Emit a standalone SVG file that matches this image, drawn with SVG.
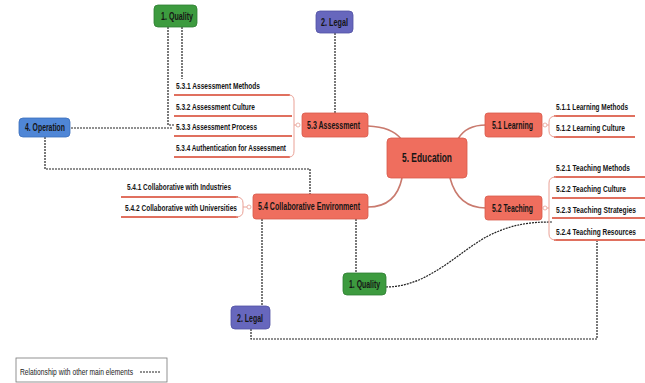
<svg xmlns="http://www.w3.org/2000/svg" width="645" height="383" viewBox="0 0 645 383">
<style>
.bx{stroke-width:0.8}
.sal{fill:#ef6e5e;stroke:#d85a4c}
.grn{fill:#3d9b3f;stroke:#2f7f32}
.pur{fill:#6767bd;stroke:#5252a3}
.blu{fill:#4f86d6;stroke:#3b6fbc}
.t{font-family:"Liberation Sans Narrow","Liberation Sans",Arial,sans-serif;font-weight:bold;fill:#151515}
.tb{font-size:10px}
.tl{font-size:9.2px}
.tm{font-size:13px}
.ul{stroke:#e0705f;stroke-width:1.8;fill:none}
.br{stroke:#eaa196;stroke-width:1;fill:none}
.dot{fill:#fff;stroke:#e6a094;stroke-width:0.8}
.main{stroke:#c97a6e;stroke-width:1.6;fill:none}
.dash{stroke:#222;stroke-width:1.2;stroke-dasharray:2 1;fill:none}
</style>
<rect width="645" height="383" fill="#fff"/>
<g id="connectors">
<path class="main" d="M368,126 Q392,127 401,139"/>
<path class="main" d="M458,139 Q466,125 486,125"/>
<path class="main" d="M450,178 Q458,208 486,208"/>
<path class="main" d="M402,178 Q396,207 368,207"/>
<path class="dash" d="M168,27 V125 H174"/>
<path class="dash" d="M182,27 V79"/>
<path class="dash" d="M335,33 V113"/>
<path class="dash" d="M71,128 H172"/>
<path class="dash" d="M45,137 V169 H310 V194"/>
<path class="dash" d="M262,219 V306"/>
<path class="dash" d="M356,219 V273"/>
<path class="dash" d="M251,329 V339 H597 V240"/>
<path class="dash" d="M386,287 C428,287 458,252 488,236 C512,224 530,222 552,222"/>
</g>
<g id="n53-children">
<path class="ul" d="M174,95 H290 M174,116 H292 M174,136 H292 M174,157 H290"/>
<path class="br" d="M289,95 Q294,95 294,101 V151 Q294,157 289,157 M294,125 H296"/>
<circle class="dot" cx="298" cy="125" r="2"/>
<text class="t tl" x="176" y="89" textLength="84" lengthAdjust="spacingAndGlyphs">5.3.1 Assessment Methods</text>
<text class="t tl" x="176" y="110" textLength="79" lengthAdjust="spacingAndGlyphs">5.3.2 Assessment Culture</text>
<text class="t tl" x="176" y="130" textLength="81" lengthAdjust="spacingAndGlyphs">5.3.3 Assessment Process</text>
<text class="t tl" x="176" y="151" textLength="110" lengthAdjust="spacingAndGlyphs">5.3.4 Authentication for Assessment</text>
</g>
<g id="n51-children">
<path class="ul" d="M554,116 H635 M554,137 H635"/>
<path class="br" d="M556,116 Q549,116 549,122 V131 Q549,137 556,137 M549,125 H547"/>
<circle class="dot" cx="545" cy="125" r="2"/>
<text class="t tl" x="556" y="110" textLength="72" lengthAdjust="spacingAndGlyphs">5.1.1 Learning Methods</text>
<text class="t tl" x="556" y="131" textLength="69" lengthAdjust="spacingAndGlyphs">5.1.2 Learning Culture</text>
</g>
<g id="n52-children">
<path class="ul" d="M554,177 H645 M552,198 H645 M552,218 H645 M554,240 H645"/>
<path class="br" d="M556,177 Q549,177 549,183 V234 Q549,240 556,240 M549,208 H547"/>
<circle class="dot" cx="545" cy="208" r="2"/>
<text class="t tl" x="556" y="171" textLength="74" lengthAdjust="spacingAndGlyphs">5.2.1 Teaching Methods</text>
<text class="t tl" x="556" y="192" textLength="70" lengthAdjust="spacingAndGlyphs">5.2.2 Teaching Culture</text>
<text class="t tl" x="556" y="213" textLength="80" lengthAdjust="spacingAndGlyphs">5.2.3 Teaching  Strategies</text>
<text class="t tl" x="556" y="235" textLength="80" lengthAdjust="spacingAndGlyphs">5.2.4 Teaching Resources</text>
</g>
<g id="n54-children">
<path class="ul" d="M121,197 H238 M121,217 H238"/>
<path class="br" d="M236,197 Q243,197 243,203 V211 Q243,217 236,217 M243,207 H247"/>
<circle class="dot" cx="249" cy="207" r="2"/>
<text class="t tl" x="127" y="190" textLength="104" lengthAdjust="spacingAndGlyphs">5.4.1 Collaborative with Industries</text>
<text class="t tl" x="125" y="211" textLength="112" lengthAdjust="spacingAndGlyphs">5.4.2 Collaborative with Universities</text>
</g>
<g id="quality-top"><rect class="bx grn" x="154" y="5" width="43" height="22" rx="4"/><text class="t tb" x="161" y="20" textLength="32" lengthAdjust="spacingAndGlyphs">1. Quality</text></g>
<g id="legal-top"><rect class="bx pur" x="316" y="11" width="37" height="22" rx="4"/><text class="t tb" x="321" y="26" textLength="27" lengthAdjust="spacingAndGlyphs">2. Legal</text></g>
<g id="operation"><rect class="bx blu" x="19" y="118" width="51" height="19" rx="4"/><text class="t tb" x="25" y="131" textLength="40" lengthAdjust="spacingAndGlyphs">4. Operation</text></g>
<g id="assessment"><rect class="bx sal" x="302" y="113" width="66" height="24" rx="3"/><text class="t tb" x="307" y="129" textLength="53" lengthAdjust="spacingAndGlyphs">5.3 Assessment</text></g>
<g id="education"><rect class="bx sal" x="387" y="138" width="80" height="40" rx="4"/><text class="t tm" x="402" y="162" textLength="50" lengthAdjust="spacingAndGlyphs">5. Education</text></g>
<g id="learning"><rect class="bx sal" x="485" y="113" width="57" height="24" rx="3"/><text class="t tb" x="492" y="129" textLength="41" lengthAdjust="spacingAndGlyphs">5.1 Learning</text></g>
<g id="teaching"><rect class="bx sal" x="485" y="196" width="57" height="24" rx="3"/><text class="t tb" x="492" y="212" textLength="41" lengthAdjust="spacingAndGlyphs">5.2 Teaching</text></g>
<g id="collab"><rect class="bx sal" x="253" y="194" width="115" height="25" rx="3"/><text class="t tb" x="258" y="210" textLength="102" lengthAdjust="spacingAndGlyphs">5.4 Collaborative Environment</text></g>
<g id="quality-bottom"><rect class="bx grn" x="343" y="273" width="43" height="22" rx="4"/><text class="t tb" x="349" y="288" textLength="31" lengthAdjust="spacingAndGlyphs">1. Quality</text></g>
<g id="legal-bottom"><rect class="bx pur" x="231" y="306" width="39" height="23" rx="4"/><text class="t tb" x="237" y="322" textLength="26" lengthAdjust="spacingAndGlyphs">2. Legal</text></g>
<g id="legend">
<rect x="16" y="358" width="151" height="24" fill="#fff" stroke="#777" stroke-width="0.8"/>
<text x="20" y="375" font-family="'Liberation Sans Narrow','Liberation Sans',Arial,sans-serif" font-size="9" fill="#222" textLength="113" lengthAdjust="spacingAndGlyphs">Relationship with other main elements</text>
<path class="dash" d="M140,372 H161"/>
</g>
</svg>
